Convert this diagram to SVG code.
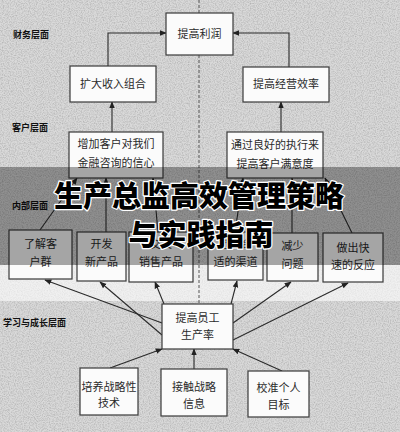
<svg xmlns="http://www.w3.org/2000/svg" width="400" height="432" viewBox="0 0 400 432">
<defs>
<filter id="noise" x="0" y="0" width="100%" height="100%">
<feTurbulence type="fractalNoise" baseFrequency="0.85" numOctaves="2" seed="3" result="t"/>
<feColorMatrix in="t" type="matrix" values="0 0 0 0 0.25  0 0 0 0 0.25  0 0 0 0 0.25  0 0 0 -1.6 1.0"/>
</filter>
<marker id="ah" viewBox="0 0 10 10" refX="9" refY="5" markerWidth="7" markerHeight="7" orient="auto" markerUnits="userSpaceOnUse">
<path d="M0,1 L10,5 L0,9 Z" fill="#222"/>
</marker>
<style>
.box{fill:#fbfbfb;stroke:#3a3a3a;stroke-width:1.2}
.t{font-family:"Noto Sans CJK SC","Noto Sans CJK JP",sans-serif;font-size:11px;fill:#2a2a2a;text-anchor:middle}
.sec{font-family:"Noto Sans CJK SC",sans-serif;font-size:9px;font-weight:bold;fill:#111}
.c{fill:none;stroke:#2a2a2a;stroke-width:1.1;marker-end:url(#ah)}
.dash{fill:none;stroke:#555;stroke-width:1;stroke-dasharray:3 2}
.title{font-family:"Noto Sans CJK SC",sans-serif;font-size:29px;font-weight:900;fill:#000;text-anchor:middle;stroke:#fff;stroke-width:2.5;paint-order:stroke;stroke-linejoin:round}
</style>
</defs>
<rect width="400" height="432" fill="#d9d9d9"/>
<rect width="400" height="432" filter="url(#noise)" opacity="0.55"/>
<rect x="0" y="265" width="400" height="36" fill="#fff" opacity="0.6"/>
<path class="dash" d="M199,0 V304"/>
<g id="sections">
<text class="sec" x="13" y="38">财务层面</text>
<text class="sec" x="12" y="131">客户层面</text>
<text class="sec" x="12" y="209">内部层面</text>
<text class="sec" x="3" y="326">学习与成长层面</text>
</g>
<g id="connectors">
<path class="c" d="M108,66 V33 H166"/>
<path class="c" d="M289,67 V33 H233"/>
<path class="c" d="M112,132 V102"/>
<path class="c" d="M281,132 V102"/>
<path class="c" d="M40,230 L77,178"/>
<path class="c" d="M106,232 V178"/>
<path class="c" d="M158,232 L153,178"/>
<path class="c" d="M235,232 L243,178"/>
<path class="c" d="M292,233 V178"/>
<path class="c" d="M352,233 L325,178"/>
<path class="c" d="M162,323 L45,280"/>
<path class="c" d="M162,335 L100,282"/>
<path class="c" d="M164,304 L155,282"/>
<path class="c" d="M231,304 L237,281"/>
<path class="c" d="M233,323 L291,282"/>
<path class="c" d="M233,340 L348,283"/>
<path class="c" d="M110,368 L162,349"/>
<path class="c" d="M194,369 V349"/>
<path class="c" d="M282,371 L233,349"/>
</g>
<g id="n-profit"><rect class="box" x="166" y="13" width="67" height="42"/><text class="t" x="199.5" y="38">提高利润</text></g>
<g id="n-revenue"><rect class="box" x="70" y="66" width="86" height="36"/><text class="t" x="113" y="88">扩大收入组合</text></g>
<g id="n-efficiency"><rect class="box" x="243" y="67" width="86" height="35"/><text class="t" x="286" y="88">提高经营效率</text></g>
<g id="n-confidence"><rect class="box" x="69" y="132" width="94" height="46"/><text class="t" x="116" y="148">增加客户对我们</text><text class="t" x="116" y="167">金融咨询的信心</text></g>
<g id="n-satisfaction"><rect class="box" x="227" y="132" width="96" height="46"/><text class="t" x="275" y="149">通过良好的执行来</text><text class="t" x="275" y="168">提高客户满意度</text></g>
<g id="n-know"><rect class="box" x="9" y="230" width="63" height="49"/><text class="t" x="40.5" y="248">了解客</text><text class="t" x="40.5" y="266">户群</text></g>
<g id="n-develop"><rect class="box" x="77" y="232" width="49" height="49"/><text class="t" x="101.5" y="248">开发</text><text class="t" x="101.5" y="266">新产品</text></g>
<g id="n-cross"><rect class="box" x="129" y="232" width="64" height="50"/><text class="t" x="161" y="248">交叉</text><text class="t" x="161" y="266">销售产品</text></g>
<g id="n-channel"><rect class="box" x="208" y="232" width="55" height="48"/><text class="t" x="235.5" y="248">选择合</text><text class="t" x="235.5" y="266">适的渠道</text></g>
<g id="n-reduce"><rect class="box" x="267" y="233" width="51" height="48"/><text class="t" x="292.5" y="250">减少</text><text class="t" x="292.5" y="268">问题</text></g>
<g id="n-respond"><rect class="box" x="323" y="233" width="60" height="49"/><text class="t" x="353" y="252">做出快</text><text class="t" x="353" y="269">速的反应</text></g>
<g id="n-productivity"><rect class="box" x="162" y="304" width="71" height="45"/><text class="t" x="197.5" y="322">提高员工</text><text class="t" x="197.5" y="339">生产率</text></g>
<g id="n-tech"><rect class="box" x="80" y="368" width="58" height="47"/><text class="t" x="109" y="391">培养战略性</text><text class="t" x="109" y="407">技术</text></g>
<g id="n-info"><rect class="box" x="161" y="369" width="66" height="47"/><text class="t" x="194" y="391">接触战略</text><text class="t" x="194" y="408">信息</text></g>
<g id="n-goals"><rect class="box" x="248" y="371" width="61" height="46"/><text class="t" x="278.5" y="392">校准个人</text><text class="t" x="278.5" y="409">目标</text></g>
<rect x="0" y="167" width="400" height="98" fill="#000" opacity="0.34"/>
<g id="title">
<text class="title" x="199" y="207">生产总监高效管理策略</text>
<text class="title" x="201" y="246">与实践指南</text>
</g>
</svg>
